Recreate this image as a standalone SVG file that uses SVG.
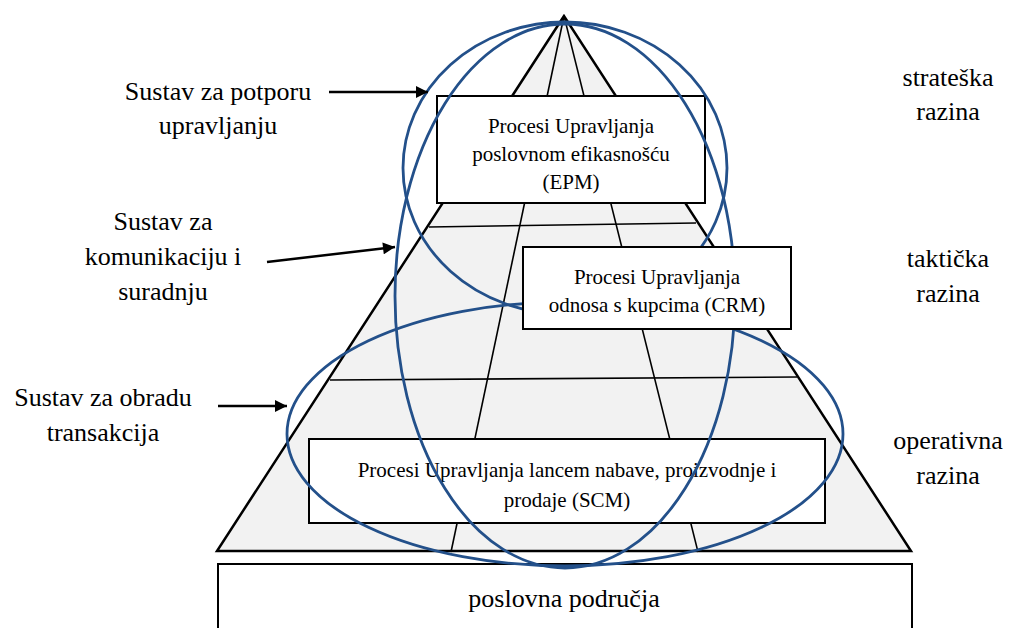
<svg xmlns="http://www.w3.org/2000/svg" width="1010" height="628" viewBox="0 0 1010 628" font-family="'Liberation Serif', 'Times New Roman', serif">
<defs>
<marker id="arr" viewBox="0 0 10 10" refX="10" refY="5" markerWidth="15" markerHeight="12" markerUnits="userSpaceOnUse" orient="auto">
<path d="M0,0 L10,5 L0,10 z" fill="#000"/>
</marker>
<style>
text{font-family:'Liberation Serif','Times New Roman',serif;fill:#000;text-anchor:middle}
.box{fill:#fff;stroke:#000;stroke-width:2}
.grid{stroke:#000;stroke-width:1.6;fill:none}
.ell{fill:none;stroke:#23508a;stroke-width:2.8}
.conn{stroke:#000;stroke-width:2.5;fill:none;marker-end:url(#arr)}
.lbl{font-size:26px}
.bx{font-size:21px}
</style>
</defs>
<rect width="1010" height="628" fill="#fff"/>
<g id="pyramid">
<polygon points="564,16 217,551 911,551" fill="#f2f2f2" stroke="#000" stroke-width="2.5"/>
<line class="grid" x1="564" y1="16" x2="451" y2="552"/>
<line class="grid" x1="564" y1="16" x2="698" y2="552"/>
<line class="grid" x1="429" y1="227" x2="696" y2="223"/>
<line class="grid" x1="330" y1="380" x2="797" y2="377"/>
</g>
<g id="epm">
<rect class="box" x="437" y="96" width="268" height="107"/>
<text class="bx" x="571" y="133">Procesi Upravljanja</text>
<text class="bx" x="571" y="161">poslovnom efikasnošću</text>
<text class="bx" x="571" y="189">(EPM)</text>
</g>
<g id="scm">
<rect class="box" x="309" y="439" width="516" height="84"/>
<text class="bx" x="567" y="477">Procesi Upravljanja lancem nabave, proizvodnje i</text>
<text class="bx" x="567" y="507">prodaje (SCM)</text>
</g>
<g id="poslovna">
<rect class="box" x="218" y="564" width="694" height="80"/>
<text class="lbl" x="564" y="607">poslovna područja</text>
</g>
<g id="ellipses">
<ellipse id="e-potpora" class="ell" cx="565" cy="168" rx="162" ry="146"/>
<ellipse id="e-komunikacija" class="ell" cx="565" cy="296" rx="170" ry="272"/>
<ellipse id="e-transakcije" class="ell" cx="565" cy="434" rx="278" ry="132"/>
</g>
<g id="crm">
<rect class="box" x="523" y="247" width="268" height="82"/>
<text class="bx" x="657" y="284">Procesi Upravljanja</text>
<text class="bx" x="657" y="312">odnosa s kupcima (CRM)</text>
</g>
<g id="connectors">
<line class="conn" x1="329" y1="92" x2="428" y2="92"/>
<line class="conn" x1="267" y1="262" x2="395" y2="247"/>
<line class="conn" x1="218" y1="406" x2="287" y2="406"/>
</g>
<g id="label-potpora">
<text class="lbl" x="218" y="100">Sustav za potporu</text>
<text class="lbl" x="218" y="134">upravljanju</text>
</g>
<g id="label-komunikacija">
<text class="lbl" x="163" y="230">Sustav za</text>
<text class="lbl" x="163" y="265">komunikaciju i</text>
<text class="lbl" x="163" y="300">suradnju</text>
</g>
<g id="label-obrada">
<text class="lbl" x="103" y="406">Sustav za obradu</text>
<text class="lbl" x="103" y="441">transakcija</text>
</g>
<g id="label-strateska">
<text class="lbl" x="948" y="86">strateška</text>
<text class="lbl" x="948" y="120">razina</text>
</g>
<g id="label-takticka">
<text class="lbl" x="948" y="267">taktička</text>
<text class="lbl" x="948" y="302">razina</text>
</g>
<g id="label-operativna">
<text class="lbl" x="948" y="449">operativna</text>
<text class="lbl" x="948" y="484">razina</text>
</g>
</svg>
